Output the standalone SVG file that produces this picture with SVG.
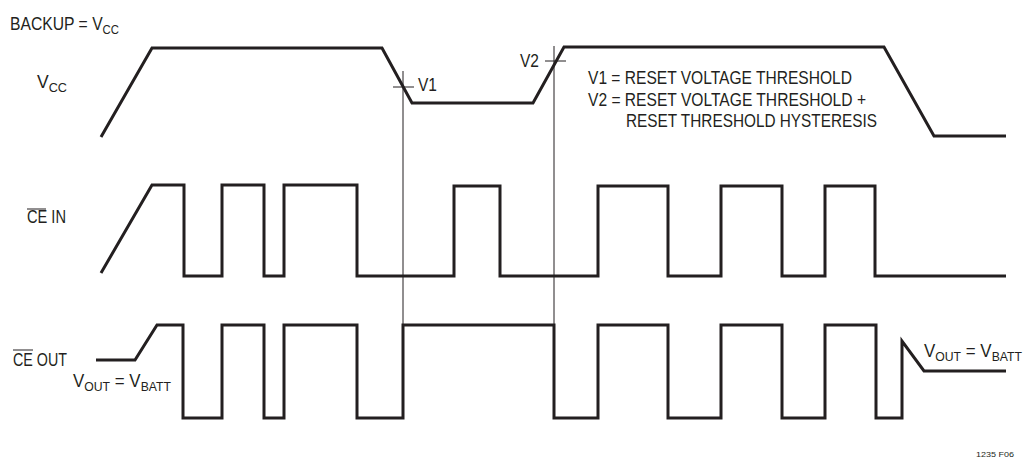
<svg xmlns="http://www.w3.org/2000/svg" width="1024" height="459" viewBox="0 0 1024 459">
<style>
.w{fill:none;stroke:#231f20;stroke-width:3;stroke-linejoin:miter;stroke-linecap:butt}
.t{fill:none;stroke:#231f20;stroke-width:1}
text{font-family:"Liberation Sans",Arial,sans-serif;fill:#231f20;font-size:18px}
.s{font-size:13px}
</style>
<rect width="1024" height="459" fill="#fff"/>
<g id="labels">
<text x="10" y="30" textLength="109" lengthAdjust="spacingAndGlyphs">BACKUP = V<tspan class="s" dy="4">CC</tspan></text>
<text x="37" y="88" textLength="30" lengthAdjust="spacingAndGlyphs">V<tspan class="s" dy="4">CC</tspan></text>
<text x="27" y="223" textLength="39" lengthAdjust="spacingAndGlyphs">CE IN</text>
<line class="t" x1="27" y1="209" x2="46" y2="209"/>
<text x="13" y="366" textLength="54" lengthAdjust="spacingAndGlyphs">CE OUT</text>
<line class="t" x1="13" y1="350" x2="33" y2="350"/>
<text x="73" y="387" textLength="98" lengthAdjust="spacingAndGlyphs">V<tspan class="s" dy="4">OUT</tspan><tspan dy="-4"> = V</tspan><tspan class="s" dy="4">BATT</tspan></text>
<text x="924" y="357" textLength="98" lengthAdjust="spacingAndGlyphs">V<tspan class="s" dy="4">OUT</tspan><tspan dy="-4"> = V</tspan><tspan class="s" dy="4">BATT</tspan></text>
<text x="418" y="91" textLength="19" lengthAdjust="spacingAndGlyphs">V1</text>
<text x="520" y="67" textLength="19" lengthAdjust="spacingAndGlyphs">V2</text>
<text x="588" y="84" textLength="264" lengthAdjust="spacingAndGlyphs">V1 = RESET VOLTAGE THRESHOLD</text>
<text x="588" y="106" textLength="278" lengthAdjust="spacingAndGlyphs">V2 = RESET VOLTAGE THRESHOLD +</text>
<text x="626" y="127" textLength="251" lengthAdjust="spacingAndGlyphs">RESET THRESHOLD HYSTERESIS</text>
<text x="976" y="457" style="font-size:8px" textLength="38" lengthAdjust="spacingAndGlyphs">1235 F06</text>
</g>
<g id="markers">
<line class="t" x1="403" y1="71" x2="403" y2="325"/>
<line class="t" x1="393" y1="87" x2="414" y2="87"/>
<line class="t" x1="554" y1="46" x2="554" y2="325"/>
<line class="t" x1="545" y1="61" x2="566" y2="61"/>
</g>
<g id="vcc">
<polyline class="w" points="101,137 152,48 382,48 412,103 533,103 564,47 884,47 934,136 1006,136"/>
</g>
<g id="ce-in">
<polyline class="w" points="101,273 152,185 184,185 184,276 222,276 222,185 264,185 264,276 284,276 284,185 357,185 357,276 454,276 454,186 500,186 500,276 598,276 598,186 668,186 668,276 721,276 721,186 782,186 782,276 825,276 825,186 875,186 875,276 1006,276"/>
</g>
<g id="ce-out">
<polyline class="w" points="96,360 135,360 157,325 183,325 183,418 222,418 222,325 264,325 264,418 284,418 284,325 357,325 357,418 403,418 403,325 554,325 554,418 598,418 598,325 668,325 668,418 721,418 721,325 782,325 782,418 825,418 825,325 876,325 876,418 902,418 902,341 924,371 1006,371"/>
</g>
</svg>
